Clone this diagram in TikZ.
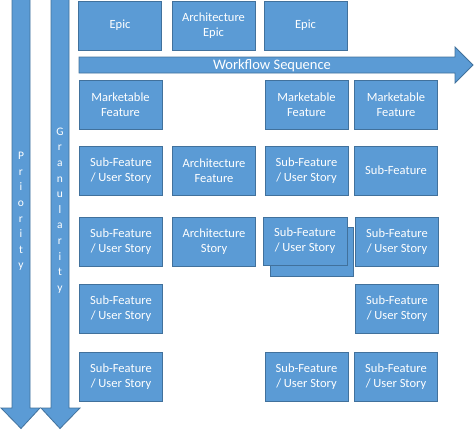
\documentclass[tikz,border=0pt]{standalone}
\usepackage{fontspec}
\setmainfont{Carlito}
\definecolor{boxfill}{HTML}{5B9BD5}
\definecolor{boxline}{HTML}{41719C}
\begin{document}
\begin{tikzpicture}[x=1pt,y=-1pt,
  box/.style={draw=boxline, fill=boxfill, line width=0.8pt, minimum width=83pt, minimum height=49pt,
    inner sep=1pt, align=center, text=white, font=\fontsize{12.5}{15}\selectfont},
  shape arrow/.style={draw=boxline, fill=boxfill, line width=0.8pt},
  vlabel/.style={text=white, align=center, inner sep=0pt, font=\fontsize{11.5}{15.6}\selectfont},
  hlabel/.style={text=white, inner sep=0pt, font=\fontsize{14.5}{16}\selectfont}]
\useasboundingbox (0,0) rectangle (474,429);
% vertical arrows
\draw[shape arrow] (12,-5) -- (30,-5) -- (30,408) -- (40,408) -- (21,428.5) -- (1,408) -- (12,408) -- cycle;
\draw[shape arrow] (51,-5) -- (69,-5) -- (69,408) -- (80,408) -- (60,428.5) -- (41,408) -- (51,408) -- cycle;
\node[vlabel] (prio) at (21,211.5) {P\\r\\i\\o\\r\\i\\t\\y};
\node[vlabel] (gran) at (60,210.5) {G\\r\\a\\n\\u\\l\\a\\r\\i\\t\\y};
% workflow arrow
\draw[shape arrow] (79,57) -- (455,57) -- (455,47) -- (473,65) -- (455,83) -- (455,73) -- (79,73) -- cycle;
\node[hlabel] (wf) at (272,65.5) {Workflow Sequence};
% row 0
\node[box] (e1) at (120,25.5) {Epic};
\node[box] (ae) at (213.5,25.5) {Architecture\\Epic};
\node[box] (e3) at (305.5,25.5) {Epic};
% row 1
\node[box] (mf1) at (120.5,105) {Marketable\\Feature};
\node[box] (mf3) at (306.5,105) {Marketable\\Feature};
\node[box] (mf4) at (396,105) {Marketable\\Feature};
% row 2
\node[box] (s21) at (121,170.5) {Sub-Feature\\/ User Story};
\node[box] (af) at (214,170.5) {Architecture\\Feature};
\node[box] (s23) at (306.5,170.5) {Sub-Feature\\/ User Story};
\node[box] (s24) at (396,170.5) {Sub-Feature};
% row 3
\node[box] (s31) at (121,241.5) {Sub-Feature\\/ User Story};
\node[box] (as) at (214,241.5) {Architecture\\Story};
\node[box, minimum width=83pt] (s33b) at (311.5,251.5) {};
\node[box, minimum width=84pt, minimum height=48pt] (s33) at (305,241) {Sub-Feature\\/ User Story};
\node[box] (s34) at (397,242) {Sub-Feature\\/ User Story};
% row 4
\node[box] (s41) at (121,308.5) {Sub-Feature\\/ User Story};
\node[box] (s44) at (397,308.5) {Sub-Feature\\/ User Story};
% row 5
\node[box] (s51) at (121,376.5) {Sub-Feature\\/ User Story};
\node[box] (s53) at (306.5,376.5) {Sub-Feature\\/ User Story};
\node[box] (s54) at (396,376.5) {Sub-Feature\\/ User Story};
\end{tikzpicture}
\end{document}
